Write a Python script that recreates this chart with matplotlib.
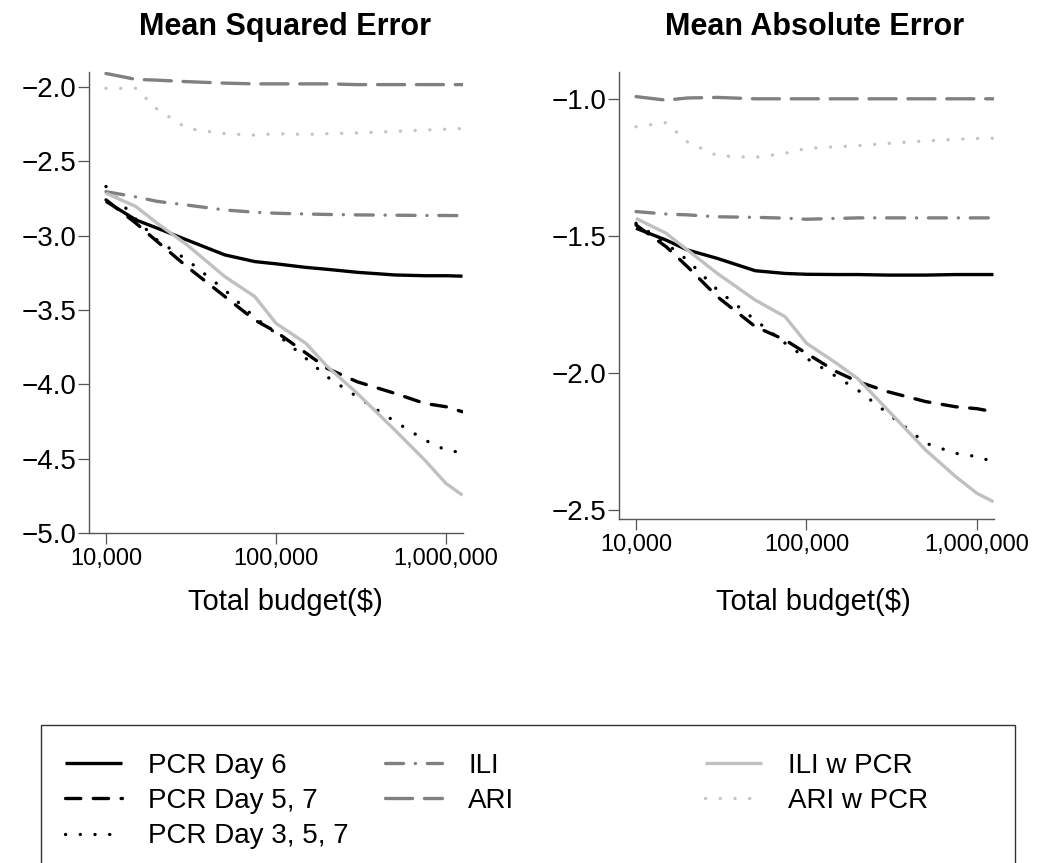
import matplotlib
matplotlib.use("Agg")
import matplotlib.pyplot as plt
from matplotlib.patches import Rectangle

plt.rcParams['font.family'] = ['Liberation Sans', 'DejaVu Sans']
plt.rcParams['lines.scale_dashes'] = False

# total budget ($) grid
budget = [10000, 15000, 20000, 30000, 50000, 75000, 100000, 150000,
          200000, 300000, 500000, 750000, 1000000, 1250000]

# mean squared error (log scale values)
mse_pcr6 = [-2.77, -2.895, -2.95, -3.03, -3.13, -3.175, -3.19, -3.214,
            -3.227, -3.247, -3.265, -3.27, -3.27, -3.273]
mse_pcr57 = [-2.76, -2.917, -3.04, -3.21, -3.41, -3.568, -3.647, -3.79,
             -3.893, -3.983, -4.061, -4.129, -4.151, -4.185]
mse_pcr357 = [-2.67, -2.89, -3.03, -3.164, -3.366, -3.55, -3.658, -3.826,
              -3.95, -4.084, -4.25, -4.375, -4.443, -4.46]
mse_ili = [-2.705, -2.74, -2.77, -2.795, -2.828, -2.843, -2.85, -2.855,
           -2.858, -2.861, -2.863, -2.865, -2.865, -2.866]
mse_ari = [-1.91, -1.95, -1.955, -1.965, -1.975, -1.98, -1.98, -1.98,
           -1.98, -1.985, -1.985, -1.985, -1.985, -1.985]
mse_ili_pcr = [-2.715, -2.805, -2.917, -3.063, -3.276, -3.41, -3.59, -3.725,
               -3.88, -4.06, -4.308, -4.51, -4.667, -4.746]
mse_ari_pcr = [-2.01, -2.01, -2.15, -2.28, -2.315, -2.325, -2.315, -2.32,
               -2.315, -2.31, -2.30, -2.29, -2.285, -2.28]

# mean absolute error
mae_pcr6 = [-1.471, -1.514, -1.55, -1.581, -1.626, -1.636, -1.639, -1.64,
            -1.64, -1.642, -1.642, -1.64, -1.64, -1.64]
mae_pcr57 = [-1.459, -1.538, -1.611, -1.721, -1.83, -1.879, -1.928, -1.995,
             -2.031, -2.068, -2.104, -2.123, -2.13, -2.141]
mae_pcr357 = [-1.453, -1.526, -1.587, -1.696, -1.806, -1.891, -1.946, -2.013,
              -2.062, -2.147, -2.256, -2.293, -2.305, -2.324]
mae_ili = [-1.41, -1.419, -1.422, -1.429, -1.431, -1.434, -1.438, -1.435,
           -1.433, -1.433, -1.433, -1.433, -1.433, -1.433]
mae_ari = [-0.99, -1.003, -0.995, -0.993, -0.998, -0.998, -0.998, -0.998,
           -0.998, -0.998, -0.998, -0.998, -0.998, -0.998]
mae_ili_pcr = [-1.435, -1.489, -1.55, -1.636, -1.733, -1.794, -1.891, -1.964,
               -2.02, -2.135, -2.281, -2.378, -2.439, -2.47]
mae_ari_pcr = [-1.10, -1.085, -1.155, -1.206, -1.212, -1.197, -1.179, -1.173,
               -1.169, -1.161, -1.152, -1.146, -1.143, -1.142]

labels = ['PCR Day 6', 'PCR Day 5, 7', 'PCR Day 3, 5, 7', 'ILI', 'ARI',
          'ILI w PCR', 'ARI w PCR']
colors = ['black', 'black', 'black', '#808080', '#808080', '#c0c0c0', '#c4c4c4']
styles = ['-', (0, (11, 9)), (0, (0.1, 10.5)), (0, (13, 8.5, 0.1, 8.5)),
          (0, (19.5, 8.5)), '-', (0, (0.1, 10.5))]

mse = [mse_pcr6, mse_pcr57, mse_pcr357, mse_ili, mse_ari, mse_ili_pcr, mse_ari_pcr]
mae = [mae_pcr6, mae_pcr57, mae_pcr357, mae_ili, mae_ari, mae_ili_pcr, mae_ari_pcr]

fig = plt.figure(figsize=(10.37, 8.63), dpi=100)
ax1 = fig.add_axes([0.0858, 0.3824, 0.3607, 0.5342])
ax2 = fig.add_axes([0.5969, 0.3986, 0.3616, 0.518])


def draw(ax, series, yticks, ylim):
    handles = []
    for vals, lab, c, ls in zip(series, labels, colors, styles):
        h, = ax.plot(budget, vals, color=c, linestyle=ls, linewidth=2.4,
                     label=lab, dash_capstyle='round', solid_capstyle='butt')
        handles.append(h)
    ax.set_xscale('log')
    ax.set_xlim(10 ** 3.9, 10 ** 6.1)
    ax.set_ylim(*ylim)
    ax.set_xticks([1e4, 1e5, 1e6], ['10,000', '100,000', '1,000,000'])
    ax.minorticks_off()
    ax.set_yticks(yticks, [('%.1f' % v).replace('-', '\u2212') for v in yticks])
    for s in ['top', 'right']:
        ax.spines[s].set_visible(False)
    for s in ['left', 'bottom']:
        ax.spines[s].set_color('#555555')
        ax.spines[s].set_linewidth(1.0)
    ax.tick_params(axis='both', direction='out', length=8, width=0.9,
                   color='#555555')
    ax.tick_params(axis='y', pad=1, labelsize=20)
    ax.tick_params(axis='x', pad=3, labelsize=17)
    return handles


handles = draw(ax1, mse, [-2.0, -2.5, -3.0, -3.5, -4.0, -4.5, -5.0], (-5.0, -1.9))
draw(ax2, mae, [-1.0, -1.5, -2.0, -2.5], (-2.533, -0.90))

fig.text(0.2748, 0.9594, 'Mean Squared Error', ha='center', va='baseline',
         fontsize=22, fontweight='bold')
fig.text(0.7859, 0.9594, 'Mean Absolute Error', ha='center', va='baseline',
         fontsize=22, fontweight='bold')
fig.text(0.2748, 0.293, 'Total budget($)', ha='center', va='baseline', fontsize=21)
fig.text(0.784, 0.293, 'Total budget($)', ha='center', va='baseline', fontsize=21)

# legend frame and three columns
fig.patches.append(Rectangle((0.0395, -0.02), 0.9392, 0.18, transform=fig.transFigure,
                             fill=False, edgecolor='#333333', linewidth=1.0))
cols = [(0.0627, handles[0:3]), (0.3713, handles[3:5]), (0.6798, handles[5:7])]
for x, hs in cols:
    fig.legend(handles=hs, loc='upper left', bbox_to_anchor=(x, 0.1275),
               frameon=False, fontsize=20, borderpad=0, borderaxespad=0,
               handlelength=2.05, handletextpad=0.94, labelspacing=0.33)

fig.savefig('out.png', dpi=100)
